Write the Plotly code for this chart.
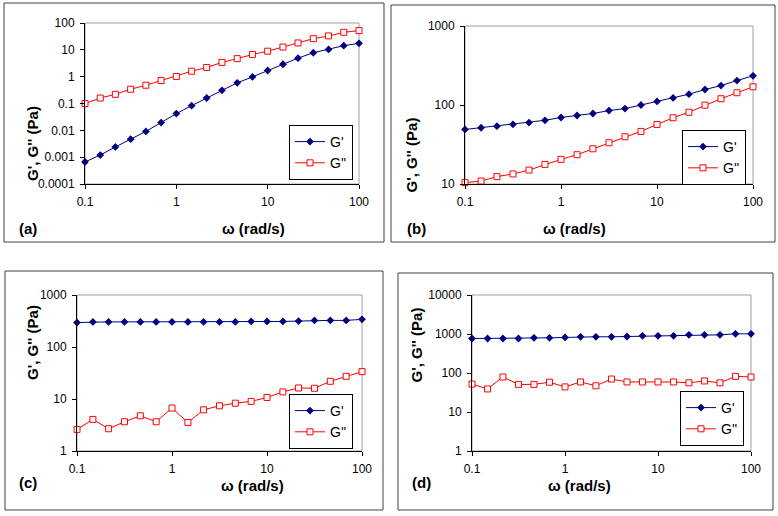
import plotly.graph_objects as go

W, H = 778, 516

omega = [0.1, 0.147, 0.215, 0.316, 0.464, 0.681, 1.0, 1.47, 2.15, 3.16, 4.64,
         6.81, 10.0, 14.7, 21.5, 31.6, 46.4, 68.1, 100.0]

a_G1 = [0.00066, 0.0012, 0.0024, 0.0047, 0.0091, 0.0195, 0.042, 0.083, 0.16, 0.31,
        0.59, 0.98, 1.7, 2.9, 4.9, 7.8, 10.4, 14.3, 17.5]
a_G2 = [0.10, 0.16, 0.22, 0.34, 0.48, 0.72, 1.02, 1.6, 2.2, 3.4, 4.7, 6.7, 8.9,
        12.7, 18, 26, 33, 45, 52]

b_G1 = [49, 51.5, 54, 57, 60, 64, 69.5, 73.6, 78, 85, 90, 100, 111, 123, 137,
        157, 176, 204, 234]
b_G2 = [10.4, 10.9, 12.4, 13.4, 15.0, 17.7, 20.5, 23.5, 27.9, 33.3, 39.6, 46.3,
        56.7, 68.9, 81, 99.5, 120, 143, 170]

c_G1 = [295, 304, 304, 304, 304, 304, 304, 304, 304, 304, 304, 310, 310, 310,
        315, 325, 325, 325, 340]
c_G2 = [2.6, 4.05, 2.68, 3.65, 4.75, 3.65, 6.7, 3.54, 6.2, 7.4, 8.3, 9.0, 10.7,
        13.7, 16.3, 16.1, 21.9, 27.3, 33.6]

d_G1 = [767, 767, 767, 767, 798, 798, 815, 848, 848, 848, 863, 898, 898, 898,
        952, 952, 952, 1010, 1010]
d_G2 = [52, 39, 79, 51, 51, 58, 44, 59, 47, 70, 59, 59, 59, 59, 56, 62.5, 56, 82, 79]

xticks = [0.1, 1, 10, 100]
xtick_text = ["0.1", "1", "10", "100"]
yticks_a = [0.0001, 0.001, 0.01, 0.1, 1, 10, 100]
ytext_a = ["0.0001", "0.001", "0.01", "0.1", "1", "10", "100"]
yticks_b = [10, 100, 1000]
ytext_b = ["10", "100", "1000"]
yticks_c = [1, 10, 100, 1000]
ytext_c = ["1", "10", "100", "1000"]
yticks_d = [1, 10, 100, 1000, 10000]
ytext_d = ["1", "10", "100", "1000", "10000"]

labels = ["(a)", "(b)", "(c)", "(d)"]
NAVY = "#000080"
RED = "#FF0000"
FONT = "Arial, Liberation Sans, sans-serif"

def px(x):
    return x / W

def py(y):
    return 1 - y / H

# panel geometry (pixels)
panels = [
    dict(plot=(85, 23, 359, 184), frame=(4, 3, 384, 242), yr=[-4, 2], yt=(yticks_a, ytext_a),
         data=(a_G1, a_G2), legend=(353, 125), ytitle=(22, 104), xtitle=(220, 228), lab=(17, 228)),
    dict(plot=(465, 26, 753, 184), frame=(391, 5, 775, 242), yr=[1, 3], yt=(yticks_b, ytext_b),
         data=(b_G1, b_G2), legend=(746, 130), ytitle=(411, 115), xtitle=(608, 228), lab=(405, 228)),
    dict(plot=(77, 295, 362, 451), frame=(5, 271, 383, 510), yr=[0, 3], yt=(yticks_c, ytext_c),
         data=(c_G1, c_G2), legend=(353, 394), ytitle=(22, 382), xtitle=(219, 496), lab=(17, 493)),
    dict(plot=(472, 295, 751, 451), frame=(398, 273, 773, 510), yr=[0, 4], yt=(yticks_d, ytext_d),
         data=(d_G1, d_G2), legend=(744, 391), ytitle=(416, 384), xtitle=(613, 496), lab=(410, 493)),
]

fig = go.Figure()
shapes = []
annotations = []
layout = {}

for i, p in enumerate(panels):
    n = i + 1
    xs = "" if n == 1 else str(n)
    leg = "legend" if n == 1 else f"legend{n}"
    g1, g2 = p["data"]
    fig.add_trace(go.Scatter(
        x=omega, y=g1, mode="lines+markers", name="G'",
        line=dict(color=NAVY, width=1),
        marker=dict(symbol="diamond", size=6, color=NAVY),
        xaxis="x" + xs, yaxis="y" + xs, legend=leg, cliponaxis=False))
    fig.add_trace(go.Scatter(
        x=omega, y=g2, mode="lines+markers", name="G''",
        line=dict(color=RED, width=1),
        marker=dict(symbol="square", size=6, color="white", line=dict(color=RED, width=1)),
        xaxis="x" + xs, yaxis="y" + xs, legend=leg, cliponaxis=False))

    x0, y0, x1, y1 = p["plot"]
    axis_common = dict(
        type="log", showgrid=False, zeroline=False, showline=True, linecolor="black",
        linewidth=1, ticks="outside", ticklen=4, tickcolor="black",
        tickfont=dict(family=FONT, size=12, color="black"), ticklabelstandoff=3,
        automargin=False,
    )
    layout["xaxis" + xs] = dict(axis_common, domain=[px(x0), px(x1)], range=[-1, 2],
                                 tickvals=xticks, ticktext=xtick_text,
                                 anchor="y" + xs)
    layout["yaxis" + xs] = dict(axis_common, domain=[py(y1), py(y0)], range=p["yr"],
                                 tickvals=p["yt"][0], ticktext=p["yt"][1],
                                 anchor="x" + xs)
    lx, ly = p["legend"]
    layout[leg] = dict(x=px(lx), y=py(ly), xanchor="right", yanchor="top",
                       bgcolor="white", bordercolor="black", borderwidth=1,
                       font=dict(family=FONT, size=14, color="black"),
                       itemwidth=30)

    # grey border on plot area (top/right)
    shapes.append(dict(type="rect", xref="paper", yref="paper",
                       x0=px(x0), x1=px(x1), y0=py(y1), y1=py(y0),
                       line=dict(color="#A0A0A0", width=1), layer="below"))
    # outer frame
    fx0, fy0, fx1, fy1 = p["frame"]
    shapes.append(dict(type="rect", xref="paper", yref="paper",
                       x0=px(fx0), x1=px(fx1), y0=py(fy1), y1=py(fy0),
                       line=dict(color="#404040", width=1), layer="below"))

    tx, ty = p["ytitle"]
    annotations.append(dict(text="<b>G', G'' (Pa)</b>", x=px(tx), y=py(ty), xref="paper",
                            yref="paper", showarrow=False, textangle=-90,
                            font=dict(family=FONT, size=15, color="black")))
    tx, ty = p["xtitle"]
    annotations.append(dict(text="<b>ω (rad/s)</b>", x=px(tx), y=py(ty), xref="paper",
                            yref="paper", showarrow=False,
                            font=dict(family=FONT, size=15, color="black")))
    tx, ty = p["lab"]
    annotations.append(dict(text="<b>" + labels[i] + "</b>", x=px(tx), y=py(ty), xref="paper",
                            yref="paper", showarrow=False, xanchor="left",
                            font=dict(family=FONT, size=15, color="black")))

fig.update_layout(
    width=W, height=H, margin=dict(l=0, r=0, t=0, b=0, pad=0, autoexpand=False),
    paper_bgcolor="white", plot_bgcolor="white", hovermode=False,
    shapes=shapes, annotations=annotations, **layout,
)

fig.write_html("out.html", config={"displayModeBar": False},
               post_script="document.body.style.margin='0px';")
